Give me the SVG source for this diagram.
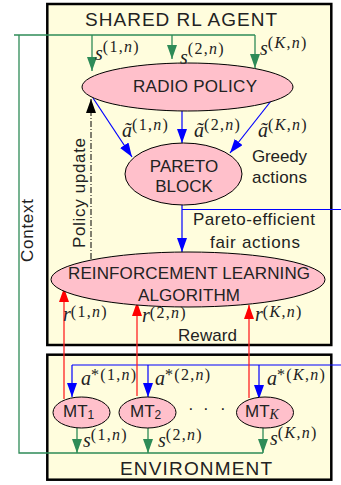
<svg xmlns="http://www.w3.org/2000/svg" width="341" height="485" viewBox="0 0 341 485">
<defs>
<style>
.box{fill:#FFFDDD;stroke:#000;stroke-width:2.5}
.ell{fill:#FFC0CB;stroke:#000;stroke-width:1}
.t{font-family:"Liberation Sans",Arial,sans-serif;font-size:17px;fill:#222}
.ttl{font-family:"Liberation Sans",Arial,sans-serif;font-size:19px;fill:#222}
.c{text-anchor:middle}
.m{font-family:"Liberation Serif","Times New Roman",serif;font-size:20px;font-style:italic;fill:#222}
.sp{font-size:16px;font-style:normal;letter-spacing:1.3px}
.i{font-style:italic}
.g{stroke:#2E8B57;stroke-width:1.3;fill:none}
.b{stroke:#0000FF;stroke-width:1.2;fill:none}
.r{stroke:#FF2222;stroke-width:1.3;fill:none}
.k{stroke:#000;stroke-width:1;fill:none;stroke-dasharray:6 2 1 2}
</style>
<marker id="ag" markerUnits="userSpaceOnUse" markerWidth="14" markerHeight="10" refX="14" refY="5" orient="auto"><path d="M0,0 L14,5 L0,10 z" fill="#2E8B57"/></marker>
<marker id="ab" markerUnits="userSpaceOnUse" markerWidth="14" markerHeight="10" refX="14" refY="5" orient="auto"><path d="M0,0 L14,5 L0,10 z" fill="#0000FF"/></marker>
<marker id="ar" markerUnits="userSpaceOnUse" markerWidth="14" markerHeight="10" refX="14" refY="5" orient="auto"><path d="M0,0 L14,5 L0,10 z" fill="#FF0000"/></marker>
<marker id="ak" markerUnits="userSpaceOnUse" markerWidth="14" markerHeight="10" refX="14" refY="5" orient="auto"><path d="M0,0 L14,5 L0,10 z" fill="#000"/></marker>
</defs>
<rect x="0" y="0" width="341" height="485" fill="#fff"/>

<g id="agent">
<rect class="box" x="47.3" y="4" width="284" height="341"/>
<text class="ttl" x="85" y="26" textLength="192">SHARED RL AGENT</text>
</g>
<g id="environment">
<rect class="box" x="47.3" y="354.7" width="284" height="125"/>
<text class="ttl" x="120" y="475" textLength="152">ENVIRONMENT</text>
</g>

<g id="connectors">
<polyline class="g" points="14,35 255,35"/>
<polyline class="g" points="19,35 19,453 263,453"/>
<line class="g" x1="92" y1="35" x2="92" y2="71" marker-end="url(#ag)"/>
<line class="g" x1="172" y1="35" x2="172" y2="59" marker-end="url(#ag)"/>
<line class="g" x1="255" y1="35" x2="255" y2="68" marker-end="url(#ag)"/>
<line class="g" x1="77" y1="428" x2="77" y2="453" marker-end="url(#ag)"/>
<line class="g" x1="148" y1="428" x2="148" y2="453" marker-end="url(#ag)"/>
<line class="g" x1="263" y1="428" x2="263" y2="453" marker-end="url(#ag)"/>
<line class="b" x1="93" y1="98" x2="132" y2="157" marker-end="url(#ab)"/>
<line class="b" x1="182" y1="111" x2="182" y2="143" marker-end="url(#ab)"/>
<line class="b" x1="271" y1="101" x2="230" y2="153" marker-end="url(#ab)"/>
<line class="b" x1="182" y1="205" x2="182" y2="252" marker-end="url(#ab)"/>
<line class="b" x1="182" y1="209.5" x2="341" y2="209.5"/>
<line class="b" x1="72" y1="365" x2="341" y2="365"/>
<line class="b" x1="72" y1="365" x2="72" y2="397" marker-end="url(#ab)"/>
<line class="b" x1="148" y1="365" x2="148" y2="397" marker-end="url(#ab)"/>
<line class="b" x1="259" y1="365" x2="259" y2="399" marker-end="url(#ab)"/>
<line class="r" x1="64" y1="399" x2="64" y2="288" marker-end="url(#ar)"/>
<line class="r" x1="137" y1="396" x2="137" y2="302" marker-end="url(#ar)"/>
<line class="r" x1="249" y1="398" x2="249" y2="305" marker-end="url(#ar)"/>
<line class="k" x1="91" y1="259" x2="91" y2="99" marker-end="url(#ak)"/>
</g>

<g id="radio-policy">
<ellipse class="ell" cx="187.5" cy="87" rx="105.5" ry="24"/>
<text class="t" x="133" y="92" textLength="124">RADIO POLICY</text>
</g>
<g id="pareto-block">
<ellipse class="ell" cx="183.5" cy="174" rx="58.5" ry="31"/>
<text class="t c" x="184" y="172">PARETO</text>
<text class="t c" x="184" y="192">BLOCK</text>
</g>
<g id="rl-algorithm">
<ellipse class="ell" cx="188" cy="279.5" rx="137" ry="27.5"/>
<text class="t" x="68" y="279" textLength="242">REINFORCEMENT LEARNING</text>
<text class="t" x="138" y="300.5" textLength="102">ALGORITHM</text>
</g>
<g id="mt1">
<ellipse class="ell" cx="81.5" cy="412.5" rx="28.5" ry="15.5"/>
<text class="t" x="63" y="417">MT<tspan font-size="12" dy="2">1</tspan></text>
</g>
<g id="mt2">
<ellipse class="ell" cx="147.5" cy="412.5" rx="28.5" ry="15.5"/>
<text class="t" x="130" y="417">MT<tspan font-size="12" dy="2">2</tspan></text>
</g>
<g id="mtk">
<ellipse class="ell" cx="265" cy="412.5" rx="28.5" ry="15.5"/>
<text class="t" x="245" y="417">MT<tspan font-family="Liberation Serif" font-style="italic" font-size="14" dy="2">K</tspan></text>
</g>
<text class="t" x="188 203 220" y="414">···</text>

<g id="labels">
<text class="t" x="252" y="162" textLength="55">Greedy</text>
<text class="t" x="252" y="183" textLength="55">actions</text>
<text class="t" x="193" y="225" textLength="122">Pareto-efficient</text>
<text class="t" x="210" y="248" textLength="90">fair actions</text>
<text class="t" x="178" y="341" textLength="59">Reward</text>
<text class="t" transform="translate(85,193) rotate(-90)" x="-55" y="0" textLength="110">Policy update</text>
<text class="t" transform="translate(33,230) rotate(-90)" x="-32" y="0" textLength="63">Context</text>

<text class="m" x="95" y="60">s<tspan class="sp" dy="-8">(1,<tspan class="i">n</tspan>)</tspan></text>
<text class="m" x="180" y="64">s<tspan class="sp" dy="-10">(2,<tspan class="i">n</tspan>)</tspan></text>
<text class="m" x="260" y="55">s<tspan class="sp" dy="-7">(<tspan class="i">K</tspan>,<tspan class="i">n</tspan>)</tspan></text>

<text class="m" x="122" y="137">ã<tspan class="sp" dy="-7">(1,<tspan class="i">n</tspan>)</tspan></text>
<text class="m" x="194" y="137">ã<tspan class="sp" dy="-7">(2,<tspan class="i">n</tspan>)</tspan></text>
<text class="m" x="258" y="137">ã<tspan class="sp" dy="-7">(<tspan class="i">K</tspan>,<tspan class="i">n</tspan>)</tspan></text>

<text class="m" x="63" y="321">r<tspan class="sp" dy="-4">(1,<tspan class="i">n</tspan>)</tspan></text>
<text class="m" x="142" y="322">r<tspan class="sp" dy="-4">(2,<tspan class="i">n</tspan>)</tspan></text>
<text class="m" x="255" y="321">r<tspan class="sp" dy="-4">(<tspan class="i">K</tspan>,<tspan class="i">n</tspan>)</tspan></text>

<text class="m" x="81" y="385">a<tspan class="sp" dy="-5">*(1,<tspan class="i">n</tspan>)</tspan></text>
<text class="m" x="155" y="385">a<tspan class="sp" dy="-5">*(2,<tspan class="i">n</tspan>)</tspan></text>
<text class="m" x="267" y="385">a<tspan class="sp" dy="-5">*(<tspan class="i">K</tspan>,<tspan class="i">n</tspan>)</tspan></text>

<text class="m" x="83" y="447">s<tspan class="sp" dy="-7">(1,<tspan class="i">n</tspan>)</tspan></text>
<text class="m" x="158" y="447">s<tspan class="sp" dy="-7">(2,<tspan class="i">n</tspan>)</tspan></text>
<text class="m" x="270" y="445">s<tspan class="sp" dy="-7">(<tspan class="i">K</tspan>,<tspan class="i">n</tspan>)</tspan></text>
</g>
</svg>
